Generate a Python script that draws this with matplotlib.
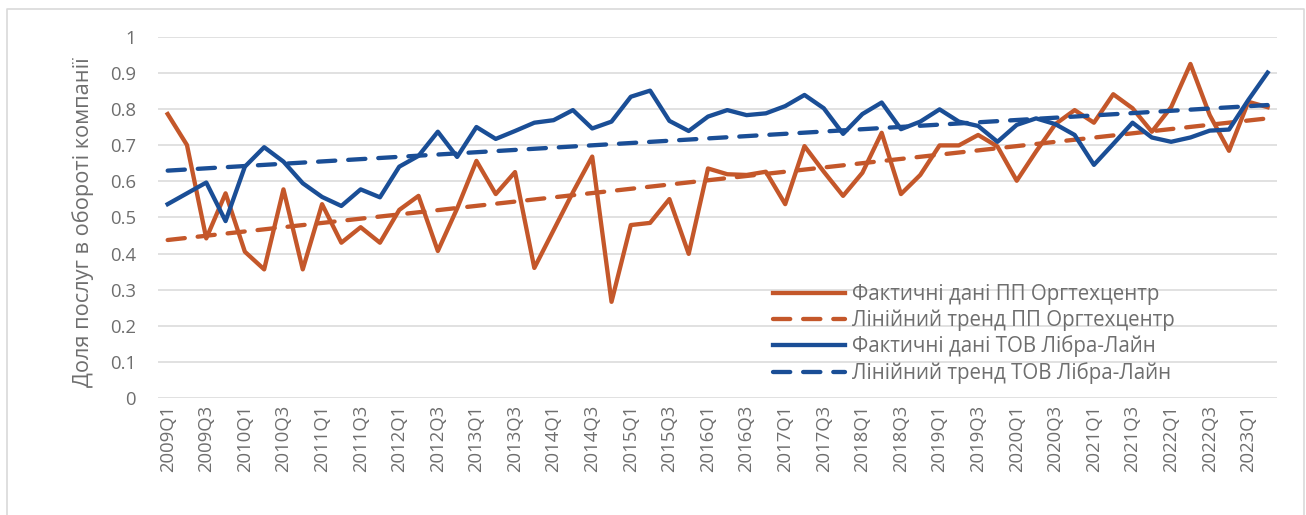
import numpy as np
import matplotlib.pyplot as plt
from matplotlib.lines import Line2D
from matplotlib.ticker import FuncFormatter

plt.rcParams['font.family'] = ['Open Sans', 'DejaVu Sans']

# Квартали 2009Q1 ... 2023Q2
quarters = [f"{y}Q{q}" for y in range(2009, 2024) for q in range(1, 5)][:58]

# Фактичні дані ПП Оргтехцентр
orgtech = [0.787, 0.701, 0.442, 0.567, 0.405, 0.356, 0.578, 0.356, 0.537, 0.430,
           0.473, 0.430, 0.521, 0.560, 0.407, 0.525, 0.657, 0.565, 0.626, 0.360,
           0.465, 0.570, 0.669, 0.266, 0.479, 0.485, 0.551, 0.399, 0.636, 0.620,
           0.618, 0.627, 0.537, 0.698, 0.627, 0.560, 0.624, 0.735, 0.565, 0.618,
           0.700, 0.700, 0.729, 0.697, 0.602, 0.683, 0.759, 0.798, 0.763, 0.842,
           0.803, 0.738, 0.806, 0.926, 0.784, 0.685, 0.821, 0.806]

# Фактичні дані ТОВ Лібра-Лайн
libra = [0.537, 0.567, 0.597, 0.490, 0.641, 0.695, 0.655, 0.595, 0.557, 0.532,
         0.578, 0.556, 0.641, 0.671, 0.738, 0.668, 0.751, 0.718, 0.740, 0.763,
         0.770, 0.798, 0.747, 0.766, 0.835, 0.852, 0.768, 0.740, 0.780, 0.798,
         0.784, 0.789, 0.809, 0.840, 0.803, 0.732, 0.787, 0.819, 0.745, 0.766,
         0.800, 0.766, 0.754, 0.710, 0.757, 0.775, 0.759, 0.729, 0.646, 0.704,
         0.763, 0.722, 0.710, 0.722, 0.741, 0.744, 0.826, 0.902]

# Лінійні тренди (значення на першому та останньому кварталі)
trend_orgtech = [0.4375, 0.775]
trend_libra = [0.630, 0.812]

c_orange = '#C4572A'
c_blue = '#1A4E96'
c_text = '#6E6E6E'

fig = plt.figure(figsize=(13.06, 5.15), dpi=100)
# рамка області діаграми (ліва, верхня, права сторони)
bx0, bx1, by1 = 7 / 1306, 1304 / 1306, 1 - 9 / 515
fig.lines.append(Line2D([bx0, bx0, bx1, bx1], [0, by1, by1, 0],
                        transform=fig.transFigure, color='#D9D9D9', linewidth=1.2))
ax = fig.add_axes([0.121, 0.2278, 0.857, 0.6998])

x = np.arange(len(quarters))
x_trend = [x[0], x[-1]]
lw = 3.1

ax.plot(x, orgtech, color=c_orange, lw=lw,
        label='Фактичні дані ПП Оргтехцентр', zorder=3)
ax.plot(x_trend, trend_orgtech, color=c_orange, lw=lw, linestyle=(0, (4, 3)),
        dash_capstyle='round', label='Лінійний тренд ПП Оргтехцентр', zorder=3)
ax.plot(x, libra, color=c_blue, lw=lw,
        label='Фактичні дані ТОВ Лібра-Лайн', zorder=4)
ax.plot(x_trend, trend_libra, color=c_blue, lw=lw, linestyle=(0, (4, 3)),
        dash_capstyle='round', label='Лінійний тренд ТОВ Лібра-Лайн', zorder=4)

ax.set_xlim(-0.5, len(quarters) - 0.5)
ax.set_ylim(0, 1)
ax.set_yticks(np.arange(0, 1.01, 0.1))
ax.yaxis.set_major_formatter(FuncFormatter(lambda v, p: f"{v:g}"))
ax.set_xticks(x[::2])
ax.set_xticklabels(quarters[::2], rotation=90)

ax.grid(axis='y', color='#D9D9D9', linewidth=1.1)
ax.set_axisbelow(True)
for s in ax.spines.values():
    s.set_visible(False)
ax.tick_params(axis='both', length=0, labelsize=13.3, colors=c_text)
ax.tick_params(axis='y', pad=16)
ax.tick_params(axis='x', pad=5)

ax.set_ylabel('Доля послуг в обороті компанії', fontsize=15.7, color=c_text)
ax.yaxis.set_label_coords(-0.057, 0.4875)

ax.legend(loc='upper left', bbox_to_anchor=(773 / 1306, 1 - 284 / 515),
          bbox_transform=fig.transFigure, frameon=False, fontsize=14.8,
          borderpad=0, borderaxespad=0, handlelength=3.5, handletextpad=0.35,
          labelspacing=0.22, labelcolor=c_text)

fig.savefig('out.png', dpi=100)
